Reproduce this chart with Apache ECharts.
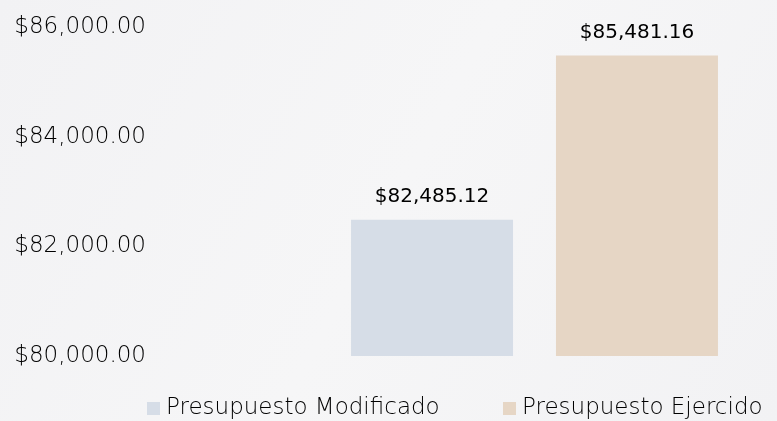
<!DOCTYPE html>
<html>
<head>
<meta charset="utf-8">
<script src="https://cdn.jsdelivr.net/npm/echarts@6/dist/echarts.min.js"></script>
<style>
  html, body { margin: 0; padding: 0; background: #f4f4f6; }
  #chart { width: 777px; height: 421px; }
</style>
</head>
<body>
<div id="chart"></div>
<script>
const categories = ['']
const seriesNames = ['Presupuesto Modificado', 'Presupuesto Ejercido']
const modificado = [82485.12]
const ejercido = [85481.16]
const seriesColors = ['#d6dde7', '#e6d6c5']

const FONT = '"DejaVu Sans", sans-serif'

function money(v) {
  return '$' + Number(v).toLocaleString('en-US', { minimumFractionDigits: 2, maximumFractionDigits: 2 })
}

// one legend per entry so each sits where the reference puts it
function legendAt(name, left) {
  return {
    top: 397,
    left,
    padding: 0,
    itemWidth: 13,
    itemHeight: 13,
    itemGap: 0,
    icon: 'rect',
    textStyle: { fontFamily: FONT, fontSize: 23, fontWeight: 200, color: '#000', padding: [0, 0, 0, 1] },
    data: [name],
  }
}

const valueLabel = {
  show: true, position: 'top', distance: 13,
  fontFamily: FONT, fontSize: 20, color: '#000',
  formatter: p => money(p.value),
}

const chart = echarts.init(document.getElementById('chart'))

chart.setOption({
  animation: false,
  backgroundColor: {
    type: 'linear', x: 0, y: 0, x2: 1, y2: 1,
    colorStops: [
      { offset: 0, color: '#f2f2f4' },
      { offset: 0.5, color: '#f6f6f7' },
      { offset: 1, color: '#f2f2f4' },
    ],
  },
  grid: { left: 292, right: 0, top: 27, bottom: 65, containLabel: false },
  legend: [legendAt(seriesNames[0], 147), legendAt(seriesNames[1], 503)],
  xAxis: {
    type: 'category',
    data: categories,
    axisLine: { show: false },
    axisTick: { show: false },
    axisLabel: { show: false },
  },
  yAxis: {
    type: 'value',
    min: 80000,
    max: 86000,
    interval: 2000,
    splitLine: { show: false },
    axisLine: { show: false },
    axisTick: { show: false },
    axisLabel: {
      margin: 146,
      fontFamily: FONT,
      fontSize: 23,
      fontWeight: 200,
      color: '#000',
      formatter: v => money(v),
    },
  },
  series: [
    {
      name: seriesNames[0],
      type: 'bar',
      data: modificado,
      barWidth: 162,
      barGap: '26.5%',
      itemStyle: { color: seriesColors[0] },
      label: valueLabel,
    },
    {
      name: seriesNames[1],
      type: 'bar',
      data: ejercido,
      barWidth: 162,
      itemStyle: { color: seriesColors[1] },
      label: valueLabel,
    },
  ],
})
</script>
</body>
</html>
